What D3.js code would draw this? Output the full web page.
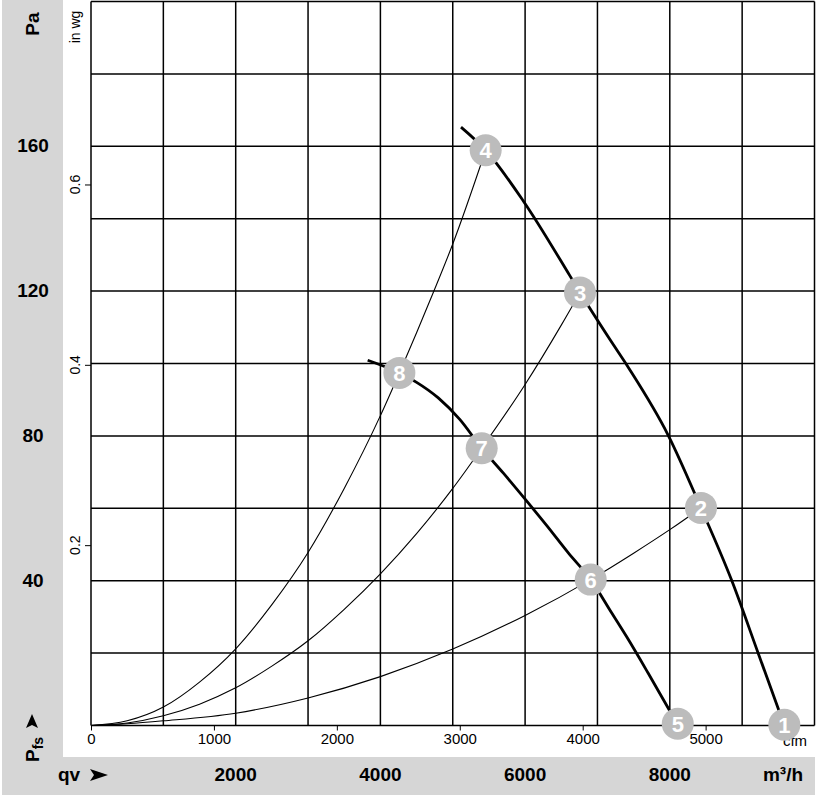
<!DOCTYPE html>
<html><head><meta charset="utf-8">
<script src="https://cdn.jsdelivr.net/npm/d3@7"></script>
<style>
html,body{margin:0;padding:0;background:#fff;}
svg{display:block;font-family:"Liberation Sans",Arial,sans-serif;}
</style></head>
<body>
<svg id="chart" width="818" height="797"></svg>
<script>
// ---- data (m³/h, Pa) ----
const fanCurveHigh = [[5114,165.3],[5455,158.9],[5975,144.9],[6620,124.2],[6759,119.6],[7173,106.6],[7427,98.9],[7980,80.1],[8431,60.1],[8855,40.1],[9223,19.9],[9583,0]];
const fanCurveLow = [[3824,100.9],[4262,97.4],[4501,94.8],[4800,90.5],[5100,84.5],[5400,76.6],[5700,69.7],[5989,62.8],[6300,55.2],[6600,47.6],[6907,40.3],[7200,31.0],[7404,24.5],[7700,14.5],[7993,4.3],[8118,0]];
const systemCurve1 = [[0,0],[500,1.3],[1000,5.1],[1500,12.0],[2000,21.2],[2500,33.4],[3000,47.8],[3500,65.5],[4000,85.6],[4262,97.4],[4500,108.5],[4731,119.6],[5000,133.0],[5455,158.9]];
const systemCurve2 = [[0,0],[500,0.7],[1000,2.7],[1500,5.9],[2000,10.4],[2500,16.4],[3000,23.4],[3500,32.1],[4000,41.9],[4500,53.0],[5000,65.5],[5400,76.6],[6000,94.2],[6500,110.6],[6759,119.6]];
const systemCurve3 = [[0,0],[500,0.5],[1000,1.3],[2000,3.4],[3000,7.6],[4000,13.5],[5000,21.1],[6000,30.4],[6907,40.3],[7500,47.6],[8000,54.1],[8431,60.1]];
const operatingPoints = [
  {id:"1", q:9583, p:0.2},
  {id:"2", q:8431, p:60.1},
  {id:"3", q:6759, p:119.6},
  {id:"4", q:5455, p:158.9},
  {id:"5", q:8110, p:0.5},
  {id:"6", q:6907, p:40.3},
  {id:"7", q:5400, p:76.6},
  {id:"8", q:4262, p:97.4}
];
const paTicks = [40,80,120,160];
const m3hTicks = [2000,4000,6000,8000];
const cfmTicks = [0,1000,2000,3000,4000,5000];
const inwgTicks = [0.2,0.4,0.6];
const gridQ = d3.range(0,10001,1000);
const gridP = d3.range(0,201,20);

// ---- scales ----
const svg = d3.select("#chart");
const x = d3.scaleLinear().domain([0,10000]).range([91,814.5]);
const y = d3.scaleLinear().domain([0,200]).range([725.5,1.5]);
const CFM = 1.699;   // m³/h per cfm
const PA_INWG = 249.09;
const xCfm = d3.scaleLinear().domain([0,10000/CFM]).range(x.range());
const yInwg = d3.scaleLinear().domain([0,200/PA_INWG]).range(y.range());

// ---- backgrounds ----
svg.append("rect").attr("x",0).attr("y",0).attr("width",818).attr("height",797).attr("fill","#fff");
svg.append("rect").attr("x",2).attr("y",0).attr("width",61).attr("height",795).attr("fill","#d6d6d6");
svg.append("rect").attr("x",2).attr("y",757).attr("width",813).attr("height",38).attr("fill","#d6d6d6");

// ---- grid ----
const g = svg.append("g").attr("stroke","#000").attr("stroke-width",1.5);
g.selectAll("line.v").data(gridQ).join("line").attr("class","v")
  .attr("x1",d=>x(d)).attr("x2",d=>x(d)).attr("y1",y(200)).attr("y2",y(0));
g.selectAll("line.h").data(gridP).join("line").attr("class","h")
  .attr("x1",x(0)).attr("x2",x(10000)).attr("y1",d=>y(d)).attr("y2",d=>y(d));

// ---- cfm axis (bottom, inside white) ----
const axCfm = svg.append("g").attr("transform",`translate(0,${y(0)})`)
  .call(d3.axisBottom(xCfm).tickValues(cfmTicks).tickSize(5).tickPadding(3).tickFormat(d3.format("d")));
axCfm.select(".domain").remove();
axCfm.selectAll("line").attr("stroke","#000");
axCfm.selectAll("text").attr("font-size",15).attr("fill","#000").attr("font-family","Liberation Sans, Arial, sans-serif");
svg.append("text").attr("x",795).attr("y",746).attr("text-anchor","middle").attr("font-size",15).text("cfm");

// ---- in wg axis (left, inside white) ----
const axIn = svg.append("g").attr("transform",`translate(${x(0)},0)`)
  .call(d3.axisLeft(yInwg).tickValues(inwgTicks).tickSize(6).tickFormat(d3.format(".1f")));
axIn.select(".domain").remove();
axIn.selectAll("line").attr("stroke","#000");
axIn.selectAll("text").remove();
svg.selectAll("text.inwg").data(inwgTicks).join("text").attr("class","inwg")
  .attr("transform",d=>`translate(80,${yInwg(d)}) rotate(-90)`)
  .attr("text-anchor","middle").attr("font-size",14).text(d=>d3.format(".1f")(d));
svg.append("text").attr("transform","translate(80,27) rotate(-90)")
  .attr("text-anchor","middle").attr("font-size",14).text("in wg");

// ---- Pa labels (gray strip) ----
svg.selectAll("text.pa").data(paTicks).join("text").attr("class","pa")
  .attr("x",33).attr("y",d=>y(d)+6).attr("text-anchor","middle")
  .attr("font-size",19).attr("font-weight","bold").text(d=>d);
svg.append("text").attr("transform","translate(39,24) rotate(-90)")
  .attr("text-anchor","middle").attr("font-size",19).attr("font-weight","bold").text("Pa");

// Pfs label rotated with arrow
const pfs = svg.append("g").attr("transform","translate(39,762) rotate(-90)");
const pt = pfs.append("text").attr("x",0).attr("y",0).attr("font-size",19).attr("font-weight","bold");
pt.append("tspan").text("P");
pt.append("tspan").attr("font-size",14).attr("dy",4).text("fs");
pfs.append("path").attr("d","M34,-13 L48,-7 L34,-1 L37,-7 Z").attr("fill","#000");

// ---- m³/h labels (bottom strip) ----
svg.selectAll("text.m3").data(m3hTicks).join("text").attr("class","m3")
  .attr("x",d=>x(d)).attr("y",781).attr("text-anchor","middle")
  .attr("font-size",19).attr("font-weight","bold").text(d=>d);
svg.append("text").attr("x",783).attr("y",781).attr("text-anchor","middle")
  .attr("font-size",19).attr("font-weight","bold").text("m³/h");
const qv = svg.append("text").attr("x",58).attr("y",781).attr("font-size",19).attr("font-weight","bold");
qv.append("tspan").text("qv");
svg.append("path").attr("d","M90,769 L108,775 L90,781 L94,775 Z").attr("fill","#000");

// ---- curves ----
const line = d3.line().x(d=>x(d[0])).y(d=>y(d[1])).curve(d3.curveMonotoneX);
[systemCurve1,systemCurve2,systemCurve3].forEach(c=>{
  svg.append("path").attr("d",line(c)).attr("fill","none").attr("stroke","#000").attr("stroke-width",1.1);
});
[fanCurveHigh,fanCurveLow].forEach(c=>{
  svg.append("path").attr("d",line(c)).attr("fill","none").attr("stroke","#000").attr("stroke-width",2.8);
});

// ---- operating point markers ----
const mk = svg.selectAll("g.mk").data(operatingPoints).join("g").attr("class","mk")
  .attr("transform",d=>`translate(${x(d.q)},${y(d.p)})`);
mk.append("circle").attr("r",16).attr("fill","#bcbcbc");
mk.append("text").attr("y",8).attr("text-anchor","middle").attr("font-size",22)
  .attr("font-weight","bold").attr("fill","#fff").text(d=>d.id);
</script>
</body></html>
